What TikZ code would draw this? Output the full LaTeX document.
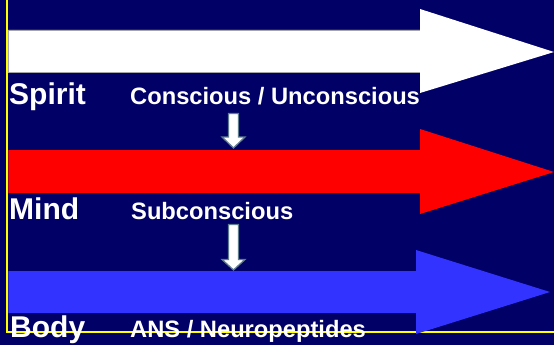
\documentclass[tikz,border=0pt]{standalone}
\usepackage{fontspec}
\setmainfont{Liberation Sans}
\definecolor{navy}{RGB}{0,0,102}
\definecolor{frameyellow}{RGB}{255,255,0}
\definecolor{bodyblue}{RGB}{51,51,255}
\definecolor{mindred}{RGB}{255,0,0}
\definecolor{stepedge}{RGB}{95,125,140}
\begin{document}
\begin{tikzpicture}[x=1pt,y=-1pt,
  level/.style={font=\bfseries\fontsize{30}{31}\selectfont, text=white, anchor=base west, inner sep=0pt},
  sublabel/.style={font=\bfseries\fontsize{23.7}{24}\selectfont, text=white, anchor=base west, inner sep=0pt},
  stepdown/.style={fill=white, draw=stepedge, line width=1.3pt, line join=miter}]
  % background
  \fill[navy] (0,0) rectangle (554,345);
  \useasboundingbox (0,0) rectangle (554,345);
  % yellow frame lines
  \draw[frameyellow, line width=2.6pt] (7,0) -- (7,332) -- (554,332);
  % main level arrows
  \fill[white] (8.3,30) -- (420,30) -- (420,9) -- (554,52) -- (420,93) -- (420,72) -- (8.3,72) -- cycle;
  \draw[gray!70, line width=0.6pt] (8.3,30) -- (420,30) (8.3,72) -- (420,72);
  \fill[mindred] (8.3,150) -- (420,150) -- (420,129) -- (554,172) -- (420,214) -- (420,193) -- (8.3,193) -- cycle;
  \fill[bodyblue] (8.3,271) -- (416,271) -- (416,250) -- (550,292) -- (416,334) -- (416,313) -- (8.3,313) -- cycle;
  % small downward arrows between levels
  \draw[stepdown] (228.5,113.5) -- (238.5,113.5) -- (238.5,137) -- (245,137) -- (233.5,148) -- (222,137) -- (228.5,137) -- cycle;
  \draw[stepdown] (228.5,224.5) -- (238.5,224.5) -- (238.5,259.5) -- (245,259.5) -- (233.5,270) -- (222,259.5) -- (228.5,259.5) -- cycle;
  % labels
  \node[level] (spirit) at (9,104) {Spirit};
  \node[sublabel] (conscious) at (130,104) {Conscious / Unconscious};
  \node[level] (mind) at (9,219) {Mind};
  \node[sublabel] (subconscious) at (131,219) {Subconscious};
  \node[level] (body) at (10,337) {Body};
  \node[sublabel] (ans) at (130,337) {ANS / Neuropeptides};
\end{tikzpicture}
\end{document}
